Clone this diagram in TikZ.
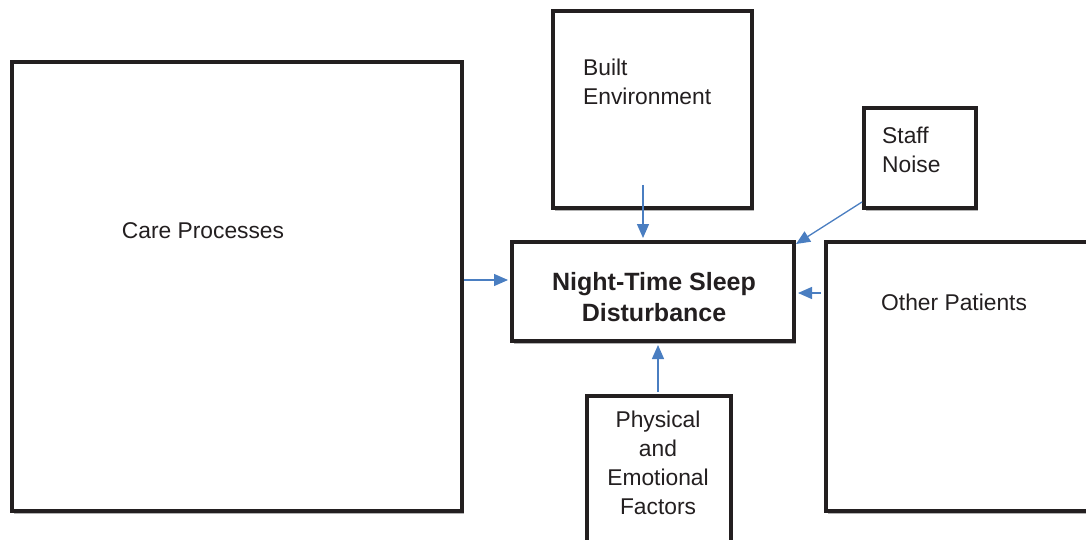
\documentclass[tikz,border=0pt]{standalone}
\usepackage{fontspec}
\setmainfont{Liberation Sans}
\usetikzlibrary{arrows.meta,shadows,calc}
\definecolor{arrowblue}{RGB}{74,126,193}
\definecolor{ink}{RGB}{35,31,32}
\begin{document}
\begin{tikzpicture}[x=1pt,y=-1pt,
  box/.style={draw=ink, line width=4pt, fill=white, inner sep=0pt,
    drop shadow={shadow xshift=2pt, shadow yshift=-3pt, fill=black, opacity=0.3}},
  txt/.style={font=\fontsize{22.8}{29}\selectfont, text=ink, inner sep=0pt},
  btxt/.style={font=\fontsize{25}{31}\selectfont\bfseries, text=ink, inner sep=0pt, align=center},
  arr/.style={draw=arrowblue, line width=1.3pt, -{Triangle[length=14pt,width=12pt]}}]
\useasboundingbox (0,0) rectangle (1086,540);
\clip (0,0) rectangle (1086,540);
\fill[white] (0,0) rectangle (1086,540);
% boxes
\node[box, minimum width=450, minimum height=449] (care) at (237,286.5) {};
\node[box, minimum width=199, minimum height=197] (built) at (652.5,109.5) {};
\node[box, minimum width=112, minimum height=100] (staff) at (920,158) {};
\node[box, minimum width=282, minimum height=99] (night) at (653,291.5) {};
\node[box, minimum width=290, minimum height=269] (other) at (971,376.5) {};
\node[box, minimum width=144, minimum height=164] (phys) at (659,478) {};
% texts
\node[txt] (caret) at (203,231) {Care Processes};
\node[txt, anchor=west, align=left] (builtt) at (583,82) {Built\\Environment};
\node[txt, anchor=west, align=left] (stafft) at (882,150) {Staff\\Noise};
\node[btxt] (nightt) at (654,297) {Night-Time Sleep\\Disturbance};
\node[txt, anchor=west] (othert) at (881,302) {Other Patients};
\node[txt, align=center] (physt) at (658,463) {Physical\\and\\Emotional\\Factors};
% arrows
\draw[arr] ($(care.east)+(0,-6.5)$) -- ($(night.west)+(-2,-11.5)$);
\draw[arr] ($(built.south)+(-9.5,-25)$) -- ($(night.north)+(-10,-2)$);
\draw[arr] ($(staff.south west)+(0,-8)$) -- ($(night.north east)+(0,4)$);
\draw[arr] ($(other.west)+(-3,-83.5)$) -- ($(night.east)+(2,1.5)$);
\draw[arr] ($(phys.north)+(-1,-2)$) -- ($(night.south)+(5,2)$);
\end{tikzpicture}
\end{document}
